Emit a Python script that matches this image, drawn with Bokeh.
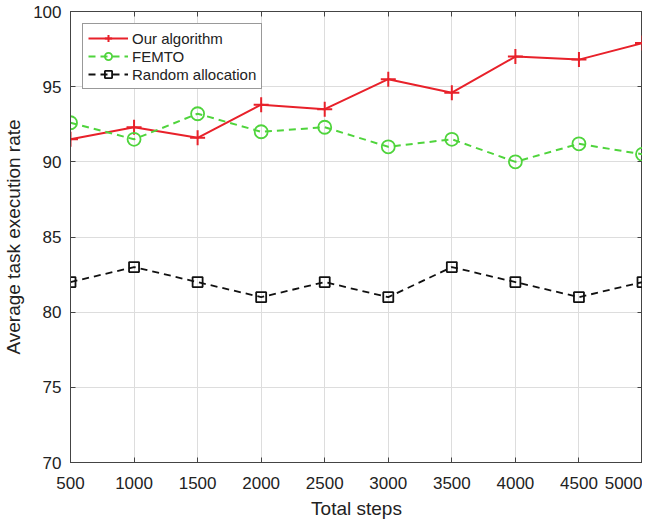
from bokeh.plotting import figure
from bokeh.models import LinearAxis, Range1d, FixedTicker, Legend, LegendItem
from bokeh.embed import file_html
from bokeh.resources import INLINE

steps = [500, 1000, 1500, 2000, 2500, 3000, 3500, 4000, 4500, 5000]
ours = [91.5, 92.3, 91.6, 93.8, 93.5, 95.5, 94.6, 97.0, 96.8, 97.9]
femto = [92.6, 91.5, 93.2, 92.0, 92.3, 91.0, 91.5, 90.0, 91.2, 90.5]
rand_alloc = [82, 83, 82, 81, 82, 81, 83, 82, 81, 82]
y_ticks = [70, 75, 80, 85, 90, 95, 100]

FONT = "Liberation Sans"
RED = "#e8212a"
GREEN = "#4fd43c"
BLACK = "#111111"
AX = "#444444"

p = figure(frame_width=572, frame_height=451, output_backend="svg", toolbar_location=None,
           x_range=Range1d(500, 5000), y_range=Range1d(70, 100),
           min_border_left=0, min_border_right=0, min_border_top=11, min_border_bottom=0,
           background_fill_color="white", border_fill_color="white")

p.outline_line_color = AX
p.outline_line_width = 1

for ax in [p.xaxis[0], p.yaxis[0]]:
    ax.major_label_text_font = FONT
    ax.major_label_text_font_size = "17px"
    ax.major_label_text_color = "#222222"
    ax.axis_label_text_font = FONT
    ax.axis_label_text_font_size = "19px"
    ax.axis_label_text_font_style = "normal"
    ax.axis_label_text_color = "#222222"
    ax.major_tick_in = 5
    ax.major_tick_out = 0
    ax.minor_tick_line_color = None
    ax.axis_line_color = AX
    ax.major_tick_line_color = AX

p.xaxis.ticker = FixedTicker(ticks=steps)
p.yaxis.ticker = FixedTicker(ticks=y_ticks)
p.xaxis.axis_label = "Total steps"
p.yaxis.axis_label = "Average task execution rate"
p.xaxis.major_label_standoff = 14
p.yaxis.major_label_standoff = 9
p.xaxis.axis_label_standoff = 6
p.yaxis.axis_label_standoff = 6

for side in ["above", "right"]:
    ax = LinearAxis(ticker=FixedTicker(ticks=steps if side == "above" else y_ticks),
                    major_label_text_font_size="0px", major_label_text_color=None,
                    major_label_standoff=0,
                    major_tick_in=5, major_tick_out=0, minor_tick_line_color=None,
                    axis_line_color=AX, major_tick_line_color=AX)
    p.add_layout(ax, side)

p.xgrid.ticker = FixedTicker(ticks=steps)
p.ygrid.ticker = FixedTicker(ticks=y_ticks)
p.grid.grid_line_color = "#dddddd"
p.grid.grid_line_width = 1

r1 = p.line(steps, ours, line_color=RED, line_width=2)
s1 = p.scatter(steps, ours, marker="cross", size=15, line_color=RED, line_width=2)
r2 = p.line(steps, femto, line_color=GREEN, line_width=2, line_dash="7 5")
s2 = p.scatter(steps, femto, marker="circle", size=13, line_color=GREEN, fill_color=None, line_width=1.8)
r3 = p.line(steps, rand_alloc, line_color=BLACK, line_width=1.8, line_dash="7 5")
s3 = p.scatter(steps, rand_alloc, marker="square", size=10, line_color=BLACK, fill_color=None, line_width=1.8)

legend = Legend(items=[
    LegendItem(label="Our algorithm", renderers=[r1, s1]),
    LegendItem(label="FEMTO", renderers=[r2, s2]),
    LegendItem(label="Random allocation", renderers=[r3, s3]),
], location="top_left", margin=12, padding=5, spacing=0,
   label_text_font=FONT, label_text_font_size="15px", label_text_color="#222222",
   glyph_width=40, glyph_height=18, label_standoff=4, label_height=18,
   border_line_color="#333333", border_line_width=1, background_fill_alpha=1.0)
p.add_layout(legend)

open("out.html", "w").write(file_html(p, INLINE))
